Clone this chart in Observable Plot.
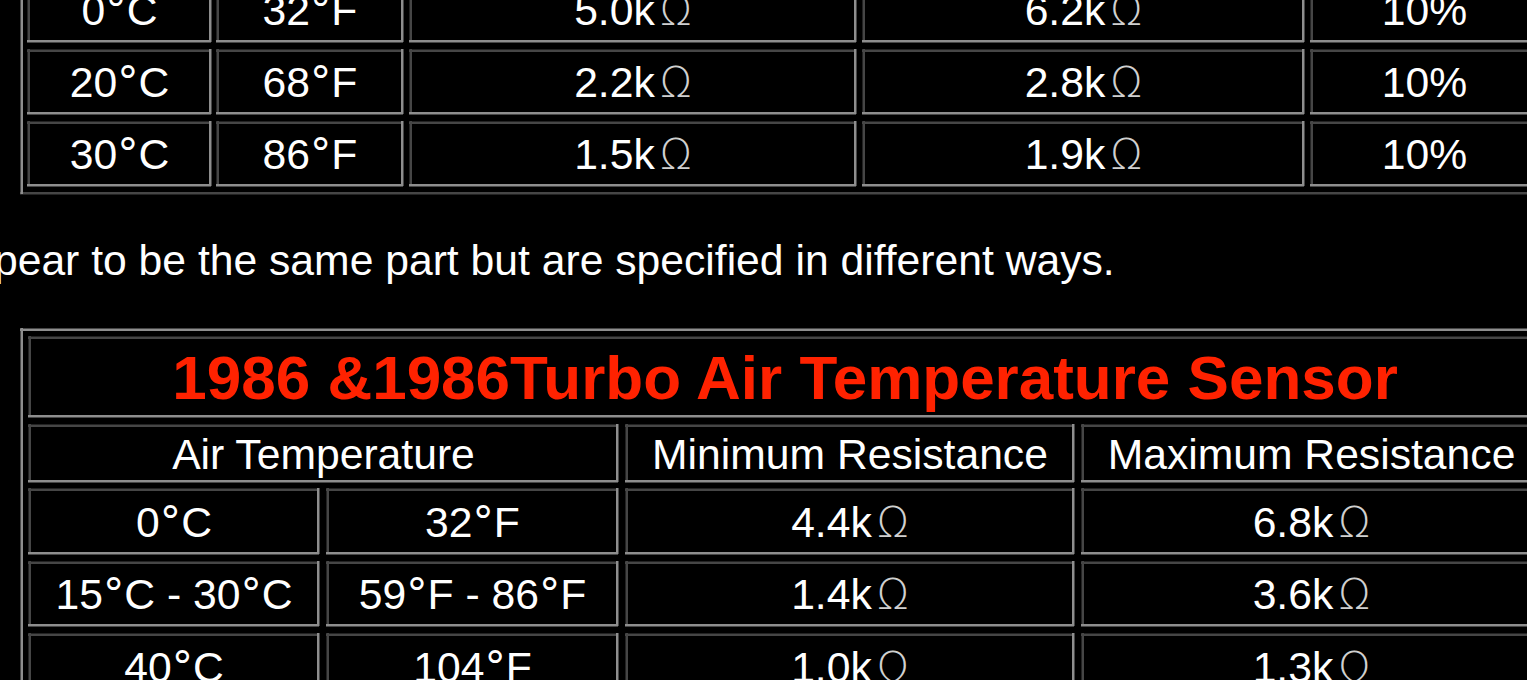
<!DOCTYPE html>
<html>
<head>
<meta charset="utf-8">
<script src="https://cdn.jsdelivr.net/npm/d3@7"></script>
<script src="https://cdn.jsdelivr.net/npm/@observablehq/plot@0.6"></script>
<style>
  html, body { margin: 0; padding: 0; background: #000; overflow: hidden; }
  #chart svg { display: block; }
</style>
</head>
<body>
<div id="chart"></div>
<script>
// ---------------- data ----------------
const topCelsius = ["0°C", "20°C", "30°C"];
const topFahrenheit = ["32°F", "68°F", "86°F"];
const topResistanceA = [5.0, 2.2, 1.5];   // kΩ
const topResistanceB = [6.2, 2.8, 1.9];   // kΩ
const topTolerance = [10, 10, 10];        // %
const noteText = "appear to be the same part but are specified in different ways.";
const tableTitle = "1986 &1986Turbo Air Temperature Sensor";
const headerLabels = ["Air Temperature", "Minimum Resistance", "Maximum Resistance"];
const bottomCelsius = ["0°C", "15°C - 30°C", "40°C"];
const bottomFahrenheit = ["32°F", "59°F - 86°F", "104°F"];
const minResistance = [4.4, 1.4, 1.0];    // kΩ
const maxResistance = [6.8, 3.6, 1.3];    // kΩ

// ---------------- layout (pixels) ----------------
const W = 1527, H = 680;
const topCols = [[27, 211], [216, 403], [409, 856], [862, 1304], [1310, 1538]];
const topRows = [[-23, 42], [49, 114], [121, 186]];
const topFrame = [20, -40, 1545, 194];
const botFrame = [20, 328, 1548, 720];
const titleRow = [336, 417];
const titleCols = [28, 1541];
const headerRow = [424, 482];
const headerCols = [[28, 618], [625, 1074], [1081, 1541]];
const botCols = [[28, 319], [326, 618], [625, 1074], [1081, 1541]];
const botRows = [[488, 554], [561, 626], [633, 699]];
const notePos = [-54, 274];

const fmtK = v => v.toFixed(1) + "kΩ";
const fmtPct = v => v + "%";

// ---------------- build cells ----------------
const cells = [];
topRows.forEach(([y1, y2], r) => {
  const vals = [topCelsius[r], topFahrenheit[r], fmtK(topResistanceA[r]), fmtK(topResistanceB[r]), fmtPct(topTolerance[r])];
  topCols.forEach(([x1, x2], c) => cells.push({x1, x2, y1, y2, text: vals[c], kind: "body"}));
});
cells.push({x1: titleCols[0], x2: titleCols[1], y1: titleRow[0], y2: titleRow[1], text: tableTitle, kind: "title"});
headerCols.forEach(([x1, x2], c) => cells.push({x1, x2, y1: headerRow[0], y2: headerRow[1], text: headerLabels[c], kind: "body"}));
botRows.forEach(([y1, y2], r) => {
  const vals = [bottomCelsius[r], bottomFahrenheit[r], fmtK(minResistance[r]), fmtK(maxResistance[r])];
  botCols.forEach(([x1, x2], c) => cells.push({x1, x2, y1, y2, text: vals[c], kind: "body"}));
});

// inset borders for cells (dark top/left, light bottom/right), outset for frames
const LIGHT = "#8e8e8e", DARK = "#464646";
const bw = 2.5;
const hSegs = [], vSegs = [];
function addBox(x1, y1, x2, y2, tl, br) {
  hSegs.push({x1, x2, y: y1 + bw / 2, c: tl});
  hSegs.push({x1, x2, y: y2 - bw / 2, c: br});
  vSegs.push({x: x1 + bw / 2, y1, y2, c: tl});
  vSegs.push({x: x2 - bw / 2, y1, y2, c: br});
}
addBox(...topFrame, LIGHT, DARK);
addBox(...botFrame, LIGHT, DARK);
cells.forEach(d => addBox(d.x1, d.y1, d.x2, d.y2, DARK, LIGHT));

const FONT = "'Liberation Sans', Arial, Helvetica, sans-serif";

const chart = Plot.plot({
  width: W,
  height: H,
  margin: 0,
  style: {background: "#000", color: "#fff", fontFamily: FONT},
  x: {domain: [0, W], range: [0, W], axis: null},
  y: {domain: [0, H], range: [0, H], axis: null},
  marks: [
    Plot.ruleY(hSegs.filter(d => d.c === DARK), {x1: "x1", x2: "x2", y: "y", stroke: DARK, strokeWidth: bw}),
    Plot.ruleX(vSegs.filter(d => d.c === DARK), {x: "x", y1: "y1", y2: "y2", stroke: DARK, strokeWidth: bw}),
    Plot.ruleY(hSegs.filter(d => d.c === LIGHT), {x1: "x1", x2: "x2", y: "y", stroke: LIGHT, strokeWidth: bw}),
    Plot.ruleX(vSegs.filter(d => d.c === LIGHT), {x: "x", y1: "y1", y2: "y2", stroke: LIGHT, strokeWidth: bw}),
    Plot.text(cells.filter(d => d.kind === "body"), {
      x: d => (d.x1 + d.x2) / 2, y: d => (d.y1 + d.y2) / 2, text: "text",
      fill: "#fff", fontSize: 42.67, lineAnchor: "bottom", dy: 15.3, textAnchor: "middle"
    }),
    Plot.text(cells.filter(d => d.kind === "title"), {
      x: d => (d.x1 + d.x2) / 2, y: d => (d.y1 + d.y2) / 2, text: "text",
      fill: "#ff2200", fontSize: 62, fontWeight: "bold", lineAnchor: "bottom", dy: 21.8, textAnchor: "middle"
    }),
    Plot.text([noteText], {
      x: () => notePos[0], y: () => notePos[1], text: d => d,
      fill: "#fff", fontSize: 42.67, lineAnchor: "bottom", textAnchor: "start"
    })
  ]
});

// render the ohm and degree signs in a symbol-like face, as in the reference
const NS = "http://www.w3.org/2000/svg";
chart.querySelectorAll("text").forEach(t => {
  const s = t.textContent;
  if (!/[Ω°]/.test(s)) return;
  t.textContent = "";
  s.split(/([Ω°])/).forEach(part => {
    if (!part) return;
    if (part === "Ω") {
      const ts = document.createElementNS(NS, "tspan");
      ts.setAttribute("dx", "5");
      ts.setAttribute("font-family", "'DejaVu Sans', sans-serif");
      ts.setAttribute("font-weight", "200");
      ts.setAttribute("font-size", "42");
      ts.setAttribute("fill", "#d0d0d0");
      ts.textContent = "Ω";
      t.appendChild(ts);
    } else if (part === "°") {
      const ts = document.createElementNS(NS, "tspan");
      ts.setAttribute("font-family", "'DejaVu Sans', sans-serif");
      ts.textContent = "°";
      t.appendChild(ts);
    } else {
      t.appendChild(document.createTextNode(part));
    }
  });
});

document.getElementById("chart").appendChild(chart);
</script>
</body>
</html>
